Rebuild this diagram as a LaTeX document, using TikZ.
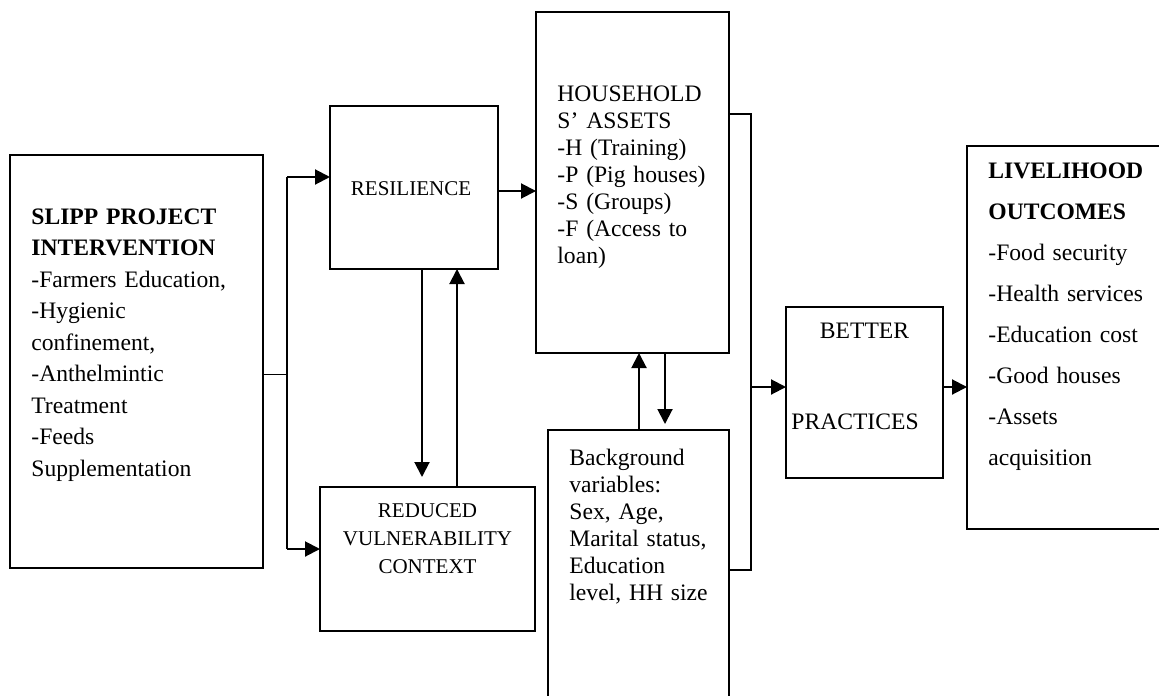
\documentclass[tikz,border=0pt]{standalone}
\usepackage{fontspec}
\setmainfont{Liberation Serif}
\usepackage{tikz}
\usetikzlibrary{arrows.meta, positioning}

\begin{document}
\begin{tikzpicture}[x=0.5pt, y=-0.5pt]
    \tikzset{BoxStyle/.style = {draw=black, line width=0.9pt, inner sep=0pt, outer sep=0pt, anchor=north west}}
    \tikzset{TextStyle/.style = {inner sep=0pt, align=left, anchor=base west}}
    \tikzset{ArrowStyle/.style = {line width=1pt, -{Triangle[length=7.5pt, width=7.5pt]}}}
    \useasboundingbox (0,0) rectangle (1159,695);

    \node[BoxStyle, minimum width=126.5pt, minimum height=206.5pt](slipp) at (10,155){};
    \node[BoxStyle, minimum width=84pt, minimum height=81.5pt](resil) at (330,106){};
    \node[BoxStyle, minimum width=107.5pt, minimum height=72pt](reduced) at (320,487){};
    \node[BoxStyle, minimum width=96.5pt, minimum height=170.5pt](house) at (536,12){};
    \node[BoxStyle, minimum width=90.5pt, minimum height=137.5pt](backgr) at (548,430){};
    \node[BoxStyle, minimum width=78.5pt, minimum height=85.5pt](better) at (786,307){};
    \node[BoxStyle, minimum width=100pt, minimum height=191.5pt](liveli) at (967,146){};

    \node[TextStyle, text width=115pt, font=\fontsize{11.8pt}{15.75pt}\selectfont](slippT) at (31,224)
        {\textbf{SLIPP PROJECT}\\\textbf{INTERVENTION}\\-Farmers Education,\\-Hygienic\\confinement,\\-Anthelmintic\\Treatment\\-Feeds\\Supplementation};
    \node[TextStyle, anchor=base, font=\fontsize{10.5pt}{12pt}\selectfont](resilT) at (411,196){RESILIENCE};
    \node[TextStyle, anchor=base, align=center, text width=105pt, font=\fontsize{10.5pt}{14pt}\selectfont](reducedT) at (427.5,517)
        {REDUCED\\VULNERABILITY\\CONTEXT};
    \node[TextStyle, text width=90pt, font=\fontsize{11.8pt}{13.5pt}\selectfont](houseT) at (557,102)
        {HOUSEHOLD\\S’ ASSETS\\-H (Training)\\-P (Pig houses)\\-S (Groups)\\-F (Access to\\loan)};
    \node[TextStyle, text width=78pt, font=\fontsize{11.8pt}{13.5pt}\selectfont](backgrT) at (569,465)
        {Background\\variables:\\Sex, Age,\\Marital status,\\Education\\level, HH size};
    \node[TextStyle, anchor=base, font=\fontsize{11.8pt}{12pt}\selectfont](betterT) at (864.5,338){BETTER};
    \node[TextStyle, font=\fontsize{11.8pt}{12pt}\selectfont](practT) at (791,429){PRACTICES};
    \node[TextStyle, text width=88pt, font=\fontsize{11.8pt}{20.5pt}\selectfont](liveliT) at (988,178)
        {\textbf{LIVELIHOOD}\\\textbf{OUTCOMES}\\-Food security\\-Health services\\-Education cost\\-Good houses\\-Assets\\acquisition};

    \coordinate (jn) at (287,374);
    \coordinate (jt) at (287,177);
    \coordinate (jb) at (287,549);
    \draw[line width=0.5pt](slipp.east |- jn) -- (jn);
    \draw[line width=1pt](jt) -- (jb);
    \draw[ArrowStyle](jt) -- (jt -| resil.west);
    \draw[ArrowStyle](jb) -- (jb -| reduced.west);

    \coordinate (ra) at (498,191);
    \draw[ArrowStyle](ra) -- (ra -| house.west);
    \coordinate (rd) at (422,0);
    \coordinate (ru) at (457,0);
    \draw[ArrowStyle, shorten >=5pt](rd |- resil.south) -- (rd |- reduced.north);
    \draw[ArrowStyle](ru |- reduced.north) -- (ru |- resil.south);

    \coordinate (hu) at (639,0);
    \coordinate (hd) at (665,0);
    \draw[ArrowStyle](hu |- backgr.north) -- (hu |- house.south);
    \draw[ArrowStyle, shorten >=3pt](hd |- house.south) -- (hd |- backgr.north);

    \coordinate (hr) at (751,114);
    \coordinate (hb) at (751,570);
    \coordinate (hm) at (751,387);
    \draw[line width=1pt](hr -| house.east) -- (hr) -- (hb) -- (hb -| backgr.east);
    \draw[ArrowStyle](hm) -- (hm -| better.west);
    \draw[ArrowStyle](hm -| better.east) -- (hm -| liveli.west);
\end{tikzpicture}
\end{document}
